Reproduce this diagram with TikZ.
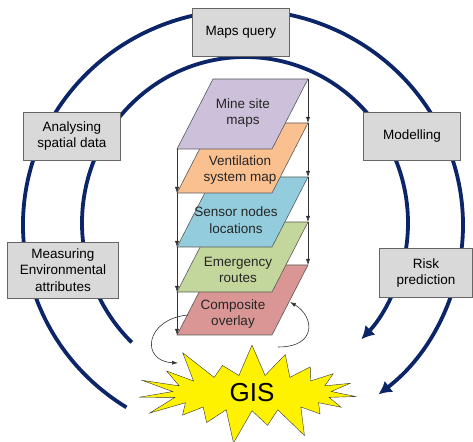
\documentclass[tikz,border=0pt]{standalone}
\usepackage{fontspec}
\setmainfont{Liberation Sans}
\usetikzlibrary{shapes.symbols,arrows.meta,positioning}
\definecolor{ringblue}{HTML}{0C2468}
\definecolor{boxgray}{HTML}{D9D9D9}
\definecolor{minecol}{HTML}{CCC0DA}
\definecolor{ventcol}{HTML}{FAC090}
\definecolor{sensorcol}{HTML}{93CDDD}
\definecolor{emergcol}{HTML}{C3D69B}
\definecolor{compcol}{HTML}{D99694}
\tikzset{task box/.style={rectangle,draw=black!60,fill=boxgray,align=center,inner sep=2pt},
         layer/.style={draw=black!65,line width=0.6pt},
         layer text/.style={align=center,text=black!85},
         ring/.style={ringblue,line width=3.8pt},
         drop/.style={black!80,line width=0.5pt,-{Latex[length=6pt,width=4pt]}}}

\begin{document}
\begin{tikzpicture}[x=1pt,y=1pt,font=\fontsize{13.5}{16.5}\selectfont]
\useasboundingbox (0,0) rectangle (473,441);

% the two rings
\coordinate (R1) at (243,216);
\coordinate (R2) at (245,218);
\draw[ring,-{Latex[length=13pt,width=14pt]}] ([shift={(238:220 and 215)}]R1)
    arc[start angle=238,end angle=-52,x radius=220,y radius=215];
\draw[ring,-{Latex[length=13pt,width=14pt]}] ([shift={(226:163 and 166)}]R2)
    arc[start angle=226,end angle=-44.5,x radius=163,y radius=166];

\node[task box,minimum width=97pt,minimum height=48pt] (query) at (241,409) {Maps query};
\node[task box,minimum width=97pt,minimum height=48pt] (analyse) at (72,305) {Analysing\\spatial data};
\node[task box,minimum width=97pt,minimum height=48pt] (model) at (412,305) {Modelling};
\node[task box,minimum width=111pt,minimum height=56pt] (measure) at (63,171) {Measuring\\Environmental\\attributes};
\node[task box,minimum width=93pt,minimum height=49pt] (risk) at (426,168) {Risk\\prediction};

% layers, lowest first
\draw[layer,fill=compcol] (177,106) coordinate (C-bl) -- ++(95,0) -- ++(36,70) coordinate (C-tr) -- ++(-95,0) -- cycle;
\draw[layer,fill=emergcol] (177,149) coordinate (E-bl) -- ++(95,0) -- ++(36,70) coordinate (E-tr) -- ++(-95,0) -- cycle;
\draw[layer,fill=sensorcol] (177,194) coordinate (S-bl) -- ++(95,0) -- ++(36,70) coordinate (S-tr) -- ++(-95,0) -- cycle;
\draw[layer,fill=ventcol] (177,248) coordinate (V-bl) -- ++(95,0) -- ++(36,70) coordinate (V-tr) -- ++(-95,0) -- cycle;
\draw[layer,fill=minecol] (177,292) coordinate (M-bl) -- ++(95,0) -- ++(36,70) coordinate (M-tr) -- ++(-95,0) -- cycle;

\node[layer text] (mine) at (243,328) {Mine site\\maps};
\node[layer text] (vent) at (240,271) {Ventilation\\system map};
\node[layer text] (sensor) at (236,221) {Sensor nodes\\locations};
\node[layer text] (emerg) at (238,171) {Emergency\\routes};
\node[layer text] (comp) at (233,127) {Composite\\overlay};

\draw[drop] (M-tr) -- (V-tr);
\draw[drop] (V-tr) -- (S-tr);
\draw[drop] (S-tr) -- (E-tr);
\draw[drop] (E-tr) -- (C-tr);
\draw[drop] (M-bl) -- (V-bl);
\draw[drop] (V-bl) -- (S-bl);
\draw[drop] (S-bl) -- (E-bl);
\draw[drop] (E-bl) -- (C-bl);

\node[starburst,starburst points=19,starburst point height=34pt,random starburst=40,
      draw=black!80,fill=yellow,minimum width=227pt,minimum height=96pt,
      font=\fontsize{26}{30}\selectfont] (gis) at (252,48) {GIS};

\coordinate (C-in) at (188,126);
\coordinate (C-out) at (290,139);
\coordinate (gis-in) at (178,78);
\coordinate (gis-out) at (278,94);
\draw[drop,line width=0.6pt] (C-in) .. controls (145,122) and (140,80) .. (gis-in);
\draw[drop,line width=0.6pt] (gis-out) .. controls (318,94) and (314,125) .. (C-out);

\end{tikzpicture}
\end{document}
